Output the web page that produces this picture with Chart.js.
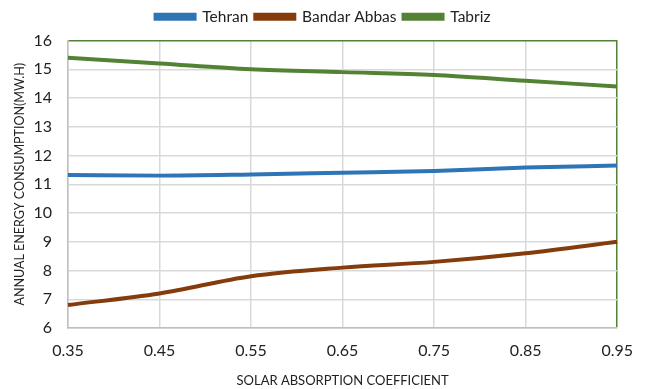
<!DOCTYPE html>
<html>
<head>
<meta charset="utf-8">
<script src="https://cdn.jsdelivr.net/npm/chart.js@4/dist/chart.umd.min.js"></script>
<style>
  body { margin: 0; background: #fff; }
  #wrap { width: 646px; height: 389px; }
</style>
</head>
<body>
<div id="wrap"><canvas id="c" width="646" height="389"></canvas></div>
<script>
// absorption coefficients on the x axis
var coeffs = ["0.35", "0.45", "0.55", "0.65", "0.75", "0.85", "0.95"];
var tehran = [11.32, 11.3, 11.34, 11.4, 11.46, 11.58, 11.65];
var bandarAbbas = [6.8, 7.2, 7.8, 8.1, 8.3, 8.6, 9.0];
var tabriz = [15.4, 15.2, 15.0, 14.9, 14.8, 14.6, 14.4];
var yMin = 6, yMax = 16;

var green = "#548235";
var font = "Lato, 'Open Sans', sans-serif";

// more room under the legend, legend centred on the whole canvas
var legendTweak = {
    id: "legendTweak",
    beforeInit: function (chart) {
        var fit = chart.legend.fit;
        chart.legend.fit = function () {
            fit.bind(chart.legend)();
            this.height += 6;
        };
    },
    beforeDraw: function (chart) {
        chart.legend.left = 0;
        chart.legend.right = chart.width;
    }
};

var ctx = document.getElementById("c");
var myChart = new Chart(ctx, {
    type: "line",
    data: {
        labels: coeffs,
        datasets: [
            { label: "Tehran", data: tehran, borderColor: "#2E75B6", backgroundColor: "#2E75B6" },
            { label: "Bandar Abbas", data: bandarAbbas, borderColor: "#843C0C", backgroundColor: "#843C0C" },
            { label: "Tabriz", data: tabriz, borderColor: green, backgroundColor: green }
        ]
    },
    options: {
        responsive: false,
        animation: false,
        elements: {
            line: { borderWidth: 4, tension: 0.3, cubicInterpolationMode: "monotone" },
            point: { radius: 0 }
        },
        layout: { padding: { left: 0, right: 28, top: 2, bottom: 0 } },
        plugins: {
            legend: {
                position: "top",
                labels: {
                    font: { family: font, size: 15.5 },
                    color: "#222",
                    boxWidth: 39,
                    boxHeight: 4,
                    padding: 7
                }
            },
            tooltip: { enabled: false }
        },
        scales: {
            x: {
                type: "category",
                offset: false,
                afterFit: function (scale) { scale.height = 61; },
                grid: {
                    color: function (c) { return c.index === coeffs.length - 1 ? green : "#d9d9d9"; },
                    lineWidth: 1.5,
                    drawTicks: false
                },
                border: { color: "#bfbfbf", width: 1.5 },
                ticks: {
                    font: { family: font, size: 16 },
                    color: "#222",
                    padding: 13,
                    maxRotation: 0
                },
                title: {
                    display: true,
                    text: "SOLAR ABSORPTION COEFFICIENT",
                    font: { family: font, size: 13 },
                    color: "#222",
                    padding: { top: 8, bottom: 0 }
                }
            },
            y: {
                min: yMin,
                max: yMax,
                afterFit: function (scale) { scale.width = 68; },
                grid: {
                    color: function (c) { return c.tick.value === yMax ? green : "#d9d9d9"; },
                    lineWidth: 1.5,
                    drawTicks: false
                },
                border: { color: "#bfbfbf", width: 1.5 },
                ticks: {
                    stepSize: 1,
                    font: { family: font, size: 16 },
                    color: "#222",
                    padding: 16
                },
                title: {
                    display: true,
                    text: "ANNUAL ENERGY CONSUMPTION(MW.H)",
                    font: { family: font, size: 12.5 },
                    color: "#222",
                    padding: { top: 12, bottom: 0 }
                }
            }
        }
    },
    plugins: [legendTweak]
});
</script>
</body>
</html>
